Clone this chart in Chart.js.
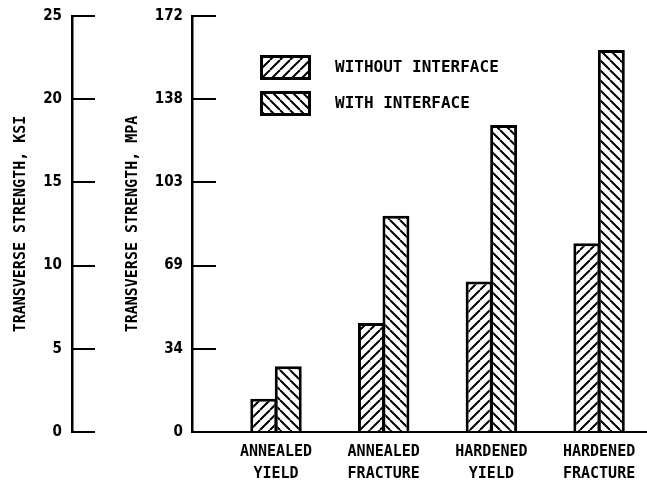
<!DOCTYPE html>
<html><head><meta charset="utf-8">
<script src="https://cdn.jsdelivr.net/npm/chart.js@4"></script>
<style>html,body{margin:0;padding:0;background:#fff;}canvas{display:block;}</style>
</head><body>
<canvas id="c" width="647" height="486"></canvas>
<script>
const categories = [["ANNEALED","YIELD"],["ANNEALED","FRACTURE"],["HARDENED","YIELD"],["HARDENED","FRACTURE"]];
const seriesNames = ["WITHOUT INTERFACE","WITH INTERFACE"];
const withoutInterfaceKsi = [2.0, 6.55, 9.05, 11.35];
const withInterfaceKsi = [3.95, 13.0, 18.45, 22.95];
const ksiTicks = [0, 5, 10, 15, 20, 25];
const mpaTickLabels = ["0", "34", "69", "103", "138", "172"];

const MONO = 'DejaVu Sans Mono';
const NUM = '"DejaVu Sans Condensed", "Liberation Sans", sans-serif';
const canvas = document.getElementById('c');
const ctx = canvas.getContext('2d');

function hatch(dir) {
  const s = 10, t = document.createElement('canvas');
  t.width = s; t.height = s;
  const g = t.getContext('2d');
  g.fillStyle = '#fff'; g.fillRect(0, 0, s, s);
  g.strokeStyle = '#000'; g.lineWidth = 2;
  g.beginPath();
  for (const o of [-s, 0, s]) {
    if (dir > 0) { g.moveTo(o, s); g.lineTo(o + s, 0); }
    else { g.moveTo(o, 0); g.lineTo(o + s, s); }
  }
  g.stroke();
  return ctx.createPattern(t, 'repeat');
}

const legendPlugin = {
  id: 'hatchLegend',
  afterDraw(chart) {
    const c = chart.ctx;
    const boxX = 260, boxW = 51, boxH = 25, rows = [55, 91], textX = 335;
    chart.data.datasets.forEach((ds, i) => {
      const y = rows[i];
      c.save();
      c.fillStyle = '#000';
      c.fillRect(boxX, y, boxW, boxH);
      c.fillStyle = ds.backgroundColor;
      c.fillRect(boxX + 3, y + 3, boxW - 6, boxH - 6);
      c.fillStyle = '#000';
      c.font = 'bold 16px "' + MONO + '"';
      c.textBaseline = 'middle';
      c.textAlign = 'left';
      c.fillText(ds.label, textX, y + boxH / 2);
      c.restore();
    });
  }
};

const barCommon = { borderColor: '#000', borderWidth: 3, borderSkipped: 'start',
  categoryPercentage: 0.455, barPercentage: 1.1, yAxisID: 'ksi', xAxisID: 'x' };

function fitY(w) {
  return s => { s.width = w; s.paddingTop = 0; s.paddingBottom = 0; };
}

new Chart(ctx, {
  type: 'bar',
  data: {
    datasets: [
      Object.assign({ label: seriesNames[0], backgroundColor: hatch(1),
        data: withoutInterfaceKsi.map((v, i) => ({ x: i + 1, y: v })) }, barCommon),
      Object.assign({ label: seriesNames[1], backgroundColor: hatch(-1),
        data: withInterfaceKsi.map((v, i) => ({ x: i + 1, y: v })) }, barCommon)
    ]
  },
  options: {
    responsive: false, animation: false, devicePixelRatio: 1,
    layout: { padding: { top: 16, left: 0, right: 0, bottom: 0 } },
    plugins: { legend: { display: false }, tooltip: { enabled: false } },
    scales: {
      x: {
        type: 'linear', position: 'bottom', min: 0.22, max: 4.445, offset: false,
        afterBuildTicks: s => { s.ticks = categories.map((c, i) => ({ value: i + 1 })); },
        afterFit: s => { s.height = 54; s.paddingLeft = 0; s.paddingRight = 0; },
        grid: { display: true, drawOnChartArea: false, drawTicks: false, offset: false },
        border: { display: true, color: '#000', width: 2 },
        ticks: { autoSkip: false, maxRotation: 0, minRotation: 0, padding: 9, color: '#000',
          font: { family: MONO, size: 15, weight: 'bold', lineHeight: 1.4667 },
          callback: (v, i) => categories[i] }
      },
      ksi: {
        type: 'linear', position: 'left', weight: 1, min: 0, max: 25,
        afterBuildTicks: s => { s.ticks = ksiTicks.map(v => ({ value: v })); },
        afterFit: fitY(72),
        grid: { drawOnChartArea: false, drawTicks: true, tickLength: -23, color: '#000', lineWidth: 2 },
        border: { display: true, color: '#000', width: 2.5 },
        ticks: { padding: 33, color: '#000', font: { family: NUM, size: 15, weight: 'bold' },
          callback: (v, i) => String(ksiTicks[i]) },
        title: { display: true, text: 'TRANSVERSE STRENGTH, KSI', color: '#000',
          font: { family: MONO, size: 15, weight: 'bold' }, padding: { top: 12, bottom: 0 } }
      },
      mpa: {
        type: 'linear', position: 'left', weight: 0, min: 0, max: 25,
        afterBuildTicks: s => { s.ticks = ksiTicks.map(v => ({ value: v })); },
        afterFit: fitY(120),
        grid: { drawOnChartArea: false, drawTicks: true, tickLength: -24, color: '#000', lineWidth: 2 },
        border: { display: true, color: '#000', width: 2.5 },
        ticks: { padding: 33, color: '#000', font: { family: NUM, size: 15, weight: 'bold' },
          callback: (v, i) => mpaTickLabels[i] },
        title: { display: true, text: 'TRANSVERSE STRENGTH, MPA', color: '#000',
          font: { family: MONO, size: 15, weight: 'bold' }, padding: { top: 52, bottom: 0 } }
      }
    }
  },
  plugins: [legendPlugin]
});
</script>
</body></html>
